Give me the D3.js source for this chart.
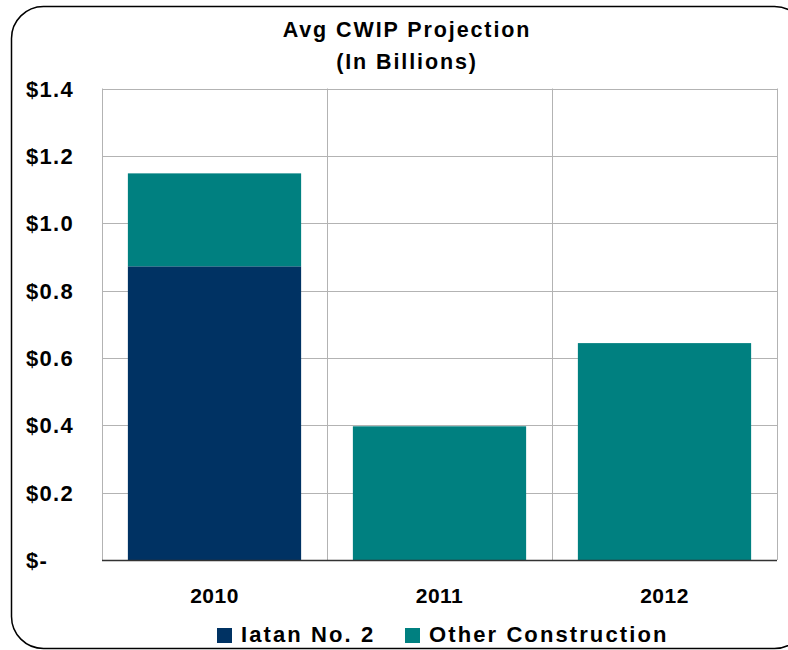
<!DOCTYPE html>
<html>
<head>
<meta charset="utf-8">
<script src="https://cdn.jsdelivr.net/npm/d3@7"></script>
<style>
  body { margin: 0; background: #fff; }
  text { font-family: "Liberation Sans", Arial, sans-serif; font-weight: bold; fill: #000; }
</style>
</head>
<body>
<svg id="chart" width="788" height="650"></svg>
<script>
const years = ["2010", "2011", "2012"];
const iatan = [0.872, 0, 0];
const other = [0.276, 0.397, 0.644];
const yTicks = [0, 0.2, 0.4, 0.6, 0.8, 1.0, 1.2, 1.4];
const yTickLabels = ["$-", "$0.2", "$0.4", "$0.6", "$0.8", "$1.0", "$1.2", "$1.4"];
const seriesNames = ["Iatan No. 2", "Other Construction"];
const colors = ["#003263", "#008080"];

const width = 788;
const height = 650;
const marginTop = 88.5;
const marginRight = 11;
const marginBottom = 90;
const marginLeft = 102;

const svg = d3.select("#chart");

// outer rounded frame
svg.append("rect")
    .attr("x", 11.5).attr("y", 6.5)
    .attr("width", 795).attr("height", 642)
    .attr("rx", 32).attr("ry", 32)
    .attr("fill", "none").attr("stroke", "#000").attr("stroke-width", 1.5);

const xScale = d3.scaleBand()
    .domain(years)
    .range([marginLeft, width - marginRight])
    .paddingInner(0.23)
    .paddingOuter(0.115);

const yScale = d3.scaleLinear()
    .domain([0, 1.4])
    .range([height - marginBottom, marginTop]);

const step = xScale.step();

// horizontal gridlines
svg.append("g").selectAll("line")
    .data(yTicks.filter(d => d > 0))
    .join("line")
    .attr("x1", marginLeft).attr("x2", width - marginRight)
    .attr("y1", d => Math.round(yScale(d)) + 0.5)
    .attr("y2", d => Math.round(yScale(d)) + 0.5)
    .attr("stroke", "#b3b3b3");

// vertical gridlines at category boundaries
const bounds = [marginLeft].concat(years.map(y => xScale(y) + xScale.bandwidth() + step * 0.115));
svg.append("g").selectAll("line")
    .data(bounds)
    .join("line")
    .attr("x1", d => Math.round(d) + 0.5).attr("x2", d => Math.round(d) + 0.5)
    .attr("y1", marginTop).attr("y2", yScale(0))
    .attr("stroke", "#b3b3b3");

// stacked bars
const rows = years.map((y, i) => ({ year: y, iatan: iatan[i], other: other[i] }));
const stack = d3.stack().keys(["iatan", "other"])(rows);
svg.append("g").selectAll("g")
    .data(stack)
    .join("g")
    .attr("fill", (d, i) => colors[i])
    .selectAll("rect")
    .data(d => d.filter(p => p[1] - p[0] > 0))
    .join("rect")
    .attr("x", d => xScale(d.data.year))
    .attr("width", xScale.bandwidth())
    .attr("y", d => yScale(d[1]))
    .attr("height", d => yScale(d[0]) - yScale(d[1]));

// baseline
svg.append("line")
    .attr("x1", marginLeft).attr("x2", width - marginRight)
    .attr("y1", yScale(0) + 0.5).attr("y2", yScale(0) + 0.5)
    .attr("stroke", "#333").attr("stroke-width", 1.5);

// y labels
svg.append("g").selectAll("text")
    .data(yTicks)
    .join("text")
    .attr("x", 26)
    .attr("y", d => yScale(d) + 8)
    .attr("font-size", 22)
    .attr("letter-spacing", 1.3)
    .text((d, i) => yTickLabels[i]);

// x labels
svg.append("g").selectAll("text")
    .data(years)
    .join("text")
    .attr("x", d => xScale(d) + xScale.bandwidth() / 2)
    .attr("y", 603)
    .attr("text-anchor", "middle")
    .attr("font-size", 21)
    .attr("letter-spacing", 0.5)
    .text(d => d);

// title
svg.append("text")
    .attr("x", 407).attr("y", 37)
    .attr("text-anchor", "middle").attr("font-size", 21.5)
    .attr("letter-spacing", 1.9)
    .text("Avg CWIP Projection");
svg.append("text")
    .attr("x", 407).attr("y", 69)
    .attr("text-anchor", "middle").attr("font-size", 21.5)
    .attr("letter-spacing", 1.9)
    .text("(In Billions)");

// legend
const legendX = [217, 405];
const legend = svg.append("g").selectAll("g")
    .data(seriesNames)
    .join("g")
    .attr("transform", (d, i) => `translate(${legendX[i]},628)`);
legend.append("rect")
    .attr("width", 15).attr("height", 15)
    .attr("fill", (d, i) => colors[i]);
legend.append("text")
    .attr("x", 24).attr("y", 14)
    .attr("font-size", 22)
    .attr("letter-spacing", 2.1)
    .text(d => d);
</script>
</body>
</html>
